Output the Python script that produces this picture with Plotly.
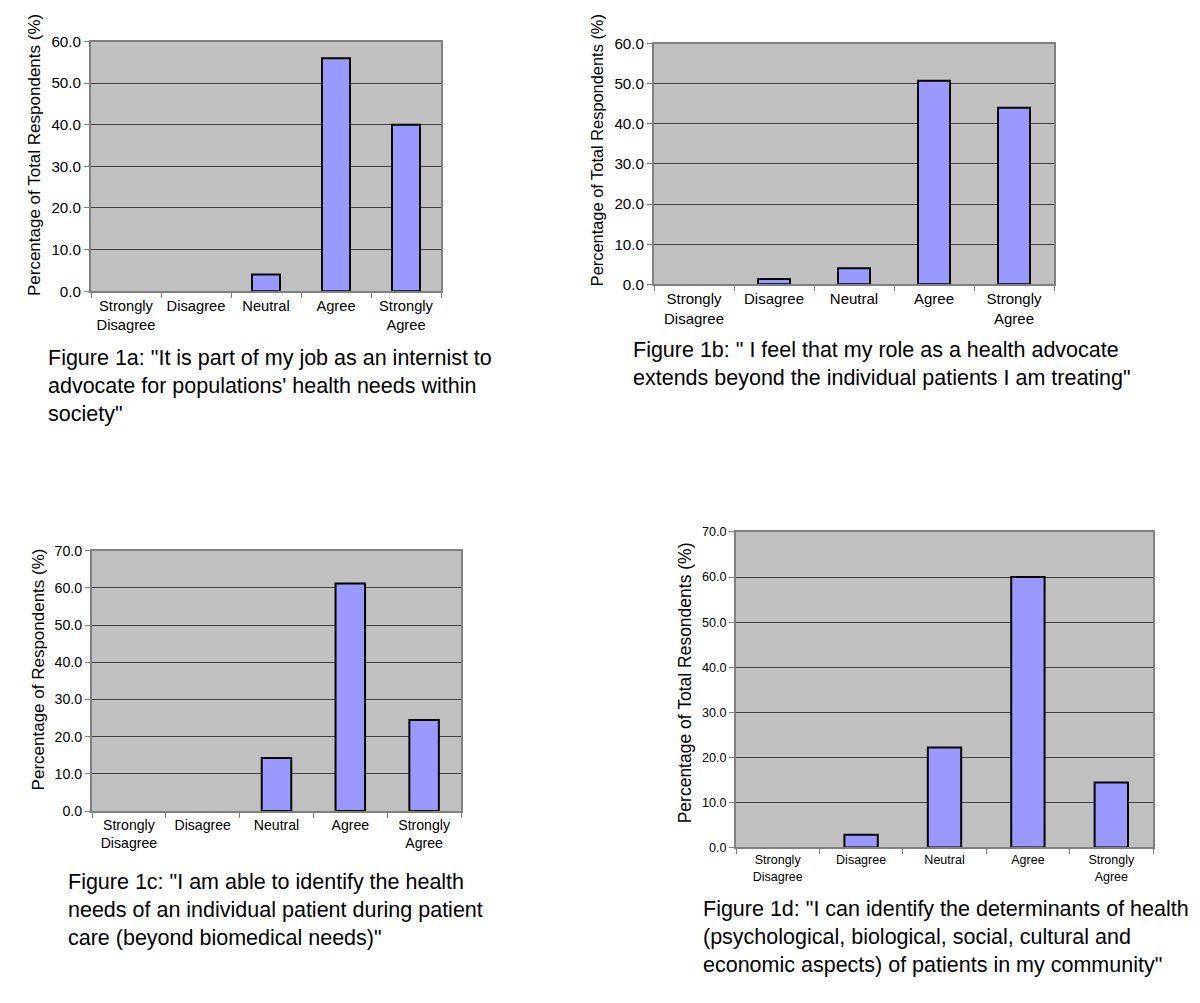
import plotly.graph_objects as go

# The page body has an 8px default margin on every side, so the figure is drawn
# 16px smaller than the window and every pixel position below is given in page
# coordinates and converted with that offset.
OFF = 8
W, H = 1200 - 2 * OFF, 1003 - 2 * OFF

categories = ["Strongly<br>Disagree", "Disagree", "Neutral", "Agree", "Strongly<br>Agree"]
values_1a = [0.0, 0.0, 4.0, 56.0, 40.0]
values_1b = [0.0, 1.3, 4.0, 50.7, 44.0]
values_1c = [0.0, 0.0, 14.3, 61.2, 24.5]
values_1d = [0.0, 2.8, 22.2, 60.0, 14.4]

ytitles = ["Percentage of Total Respondents (%)",
           "Percentage of Total Respondents (%)",
           "Percentage of Respondents (%)",
           "Percentage of Total Resondents (%)"]
captions = [
    'Figure 1a: "It is part of my job as an internist to<br>advocate for populations\' health needs within<br>society"',
    'Figure 1b: " I feel that my role as a health advocate<br>extends beyond the individual patients I am treating"',
    'Figure 1c: "I am able to identify the health<br>needs of an individual patient during patient<br>care (beyond biomedical needs)"',
    'Figure 1d: "I can identify the determinants of health<br>(psychological, biological, social, cultural and<br>economic aspects) of patients in my community"',
]
ymax = [60, 60, 70, 70]

FONT = "Arial, Liberation Sans, sans-serif"

# page-pixel boxes: (left, right, top, bottom)
boxes = [(91, 441, 33, 287), (654, 1054, 35, 280), (92, 461, 551, 816), (736, 1153, 532, 853)]
ytick_sizes = [15.2, 15.2, 14.2, 12.6]
xtick_sizes = [14.7, 15.0, 14.1, 12.5]
ytitle_sizes = [17, 16.4, 17, 17.5]
# axis title: (center x, bottom y)
ytitle_pos = [(34, 294), (597, 284), (38, 797), (685, 831)]
# caption: (left x, top y)
cap_pos = [(46, 341), (631, 333), (66, 874), (701, 901)]

series = [values_1a, values_1b, values_1c, values_1d]


def px(x):
    return (x - OFF) / W


def py(y):
    return 1 - (y - OFF) / H


fig = go.Figure()
for i, vals in enumerate(series):
    n = "" if i == 0 else str(i + 1)
    fig.add_trace(go.Bar(
        x=categories, y=vals,
        xaxis="x" + n, yaxis="y" + n,
        marker=dict(color="#9999FF",
                    line=dict(color="black", width=[2 if v > 0 else 0 for v in vals])),
        showlegend=False,
    ))
    l, r, t, b = boxes[i]
    fig.layout["xaxis" + n] = dict(
        domain=[px(l), px(r)], anchor="y" + n,
        type="category", tickson="boundaries",
        ticks="outside", ticklen=5, tickcolor="#808080", tickwidth=1,
        showline=True, linecolor="#808080", linewidth=2, mirror=True,
        showgrid=False, tickfont=dict(family=FONT, size=xtick_sizes[i], color="black"),
        fixedrange=True,
    )
    fig.layout["yaxis" + n] = dict(
        domain=[py(b), py(t)], anchor="x" + n,
        range=[0, ymax[i]], dtick=10, tickformat=".1f",
        ticks="outside", ticklen=5, tickcolor="#808080", tickwidth=1,
        showline=True, linecolor="#808080", linewidth=2, mirror=True,
        showgrid=True, gridcolor="#404040", gridwidth=1, zeroline=False,
        tickfont=dict(family=FONT, size=ytick_sizes[i], color="black"),
        fixedrange=True,
    )
    cx, by = ytitle_pos[i]
    fig.add_annotation(text=ytitles[i], xref="paper", yref="paper",
                       x=px(cx), y=py(by), xanchor="center", yanchor="bottom",
                       textangle=-90, showarrow=False,
                       font=dict(family=FONT, size=ytitle_sizes[i], color="black"))
    lx, ty = cap_pos[i]
    fig.add_annotation(text=captions[i], xref="paper", yref="paper",
                       x=px(lx), y=py(ty), xanchor="left", yanchor="top",
                       align="left", showarrow=False,
                       font=dict(family=FONT, size=21.5, color="black"))

fig.update_layout(
    width=W, height=H,
    margin=dict(l=0, r=0, t=0, b=0),
    paper_bgcolor="white", plot_bgcolor="#C0C0C0",
    bargap=0.6,
    font=dict(family=FONT, color="black"),
)

fig.write_html("out.html", config={"displayModeBar": False})
